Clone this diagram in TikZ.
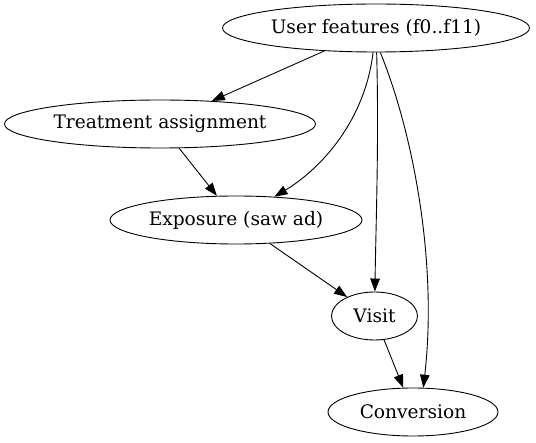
\documentclass[tikz,border=0pt]{standalone}
\usepackage{fontspec}
\setmainfont{DejaVu Serif}
\usetikzlibrary{shapes.geometric,arrows.meta}

\begin{document}
\begin{tikzpicture}[x=1pt, y=-1pt,
    var/.style={draw, ellipse, inner sep=0pt, minimum height=48pt, line width=0.9pt, font=\fontsize{18.6}{22}\selectfont},
    every path/.style={line width=0.9pt},
    >={Triangle[length=13pt, width=9.5pt]}]
    \useasboundingbox (0, 0) rectangle (536, 443);
    \node [var, minimum width=307pt] (U) at (376, 28) {User features (f0..f11)};
    \node [var, minimum width=311pt] (T) at (160, 124) {Treatment assignment};
    \node [var, minimum width=252pt] (E) at (236, 220) {Exposure (saw ad)};
    \node [var, minimum width=86pt] (V) at (374.5, 316) {Visit};
    \node [var, minimum width=170pt] (C) at (413, 412) {Conversion};
    \draw [->] (U) -- (T);
    \draw [->] (T) -- (E);
    \draw [->] (U) .. controls (365, 120) and (322, 168) .. (E);
    \draw [->] (U) .. controls (379, 140) and (376, 220) .. (V);
    \draw [->] (U.-80) .. controls (412, 130) and (438, 260) .. (C.67);
    \draw [->] (E) -- (V);
    \draw [->] (V) -- (C);
\end{tikzpicture}
\end{document}
